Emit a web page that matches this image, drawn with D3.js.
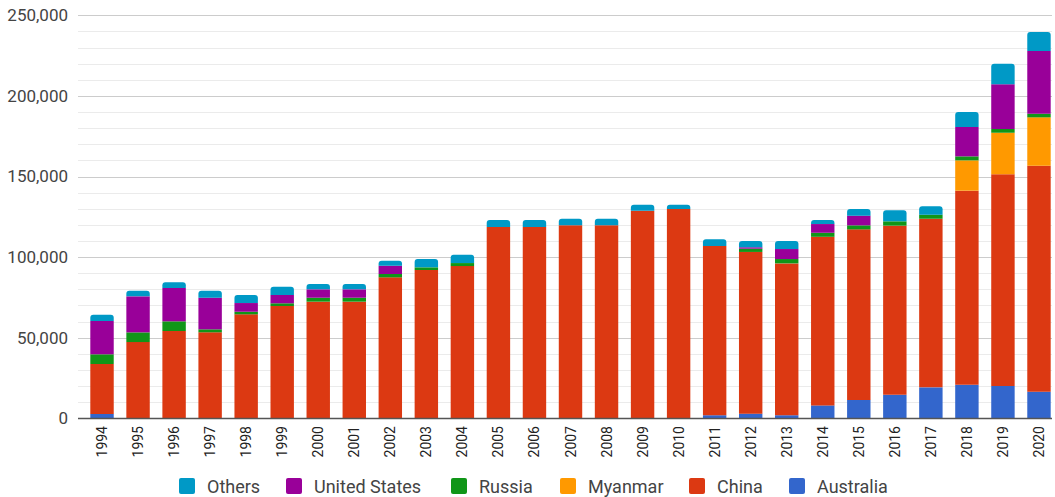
<!DOCTYPE html>
<html>
<head>
<meta charset="utf-8">
<script src="https://cdn.jsdelivr.net/npm/d3@7"></script>
<style>
  html, body { margin: 0; padding: 0; background: #fff; }
  svg { display: block; font-family: Roboto, "Noto Sans", sans-serif; }
</style>
</head>
<body>
<svg id="chart" width="1055" height="497"></svg>
<script>
const years = ["1994","1995","1996","1997","1998","1999","2000","2001","2002","2003","2004","2005","2006","2007","2008","2009","2010","2011","2012","2013","2014","2015","2016","2017","2018","2019","2020"];
const seriesNames = ["Australia","China","Myanmar","Russia","United States","Others"];
const australia = [2700,0,0,0,0,0,0,0,0,0,0,0,0,0,0,0,0,1900,2900,1900,8000,11400,14600,19200,20800,20050,16500];
const china = [31000,47300,54150,53350,64500,69650,72350,72350,87450,92000,94450,118650,118650,119700,119700,128800,129800,105000,100300,94200,104600,105800,104900,104600,120400,131300,140200];
const myanmar = [0,0,0,0,0,0,0,0,0,0,0,0,0,0,0,0,0,0,0,0,0,0,0,0,18800,25800,30000];
const russia = [6000,6000,6000,1850,1600,1700,2450,2450,2050,1650,1850,0,0,0,0,0,0,0,2000,2700,2500,2500,2700,2500,2500,2300,2250];
const unitedStates = [20650,22350,20700,19600,5400,5150,5200,5200,5150,0,0,0,0,0,0,0,0,0,900,6200,5400,6000,0,0,18200,27750,38900];
const others = [3950,3450,3500,4350,5000,5150,3300,3300,3100,5150,5200,4350,4350,4100,4100,3700,2650,4100,3900,5000,2500,4100,6800,5200,9300,12800,11750];
const yTicks = [0,50000,100000,150000,200000,250000];
const legendOrder = ["Others","United States","Russia","Myanmar","China","Australia"];

const colors = {"Australia":"#3366CC","China":"#DC3912","Myanmar":"#FF9900","Russia":"#109618","United States":"#990099","Others":"#0099C6"};
const seriesData = {"Australia":australia,"China":china,"Myanmar":myanmar,"Russia":russia,"United States":unitedStates,"Others":others};

const rows = years.map((y,i) => {
  const r = {year:y};
  seriesNames.forEach(s => r[s] = seriesData[s][i]);
  return r;
});

const svg = d3.select("#chart");
const x = d3.scaleBand().domain(years).range([84, 1057]).paddingInner(0.35).paddingOuter(0.175);
const y = d3.scaleLinear().domain([0, 250000]).range([418.3, 15.3]);
const xL = 78, xR = 1052;

// minor gridlines
const minor = d3.range(10000, 250001, 10000).filter(v => v % 50000 !== 0);
svg.append("g").selectAll("line").data(minor).join("line")
  .attr("x1", xL).attr("x2", xR)
  .attr("y1", d => Math.round(y(d)) + 0.5).attr("y2", d => Math.round(y(d)) + 0.5)
  .attr("stroke", "#ebebeb").attr("stroke-width", 1);
// major gridlines
svg.append("g").selectAll("line").data(yTicks.filter(v => v > 0)).join("line")
  .attr("x1", xL).attr("x2", xR)
  .attr("y1", d => Math.round(y(d)) + 0.5).attr("y2", d => Math.round(y(d)) + 0.5)
  .attr("stroke", "#cccccc").attr("stroke-width", 1);

// y tick labels
svg.append("g").selectAll("text").data(yTicks).join("text")
  .attr("x", 68).attr("y", d => y(d)).attr("dy", "0.35em")
  .attr("text-anchor", "end").attr("font-size", 17).attr("fill", "#444")
  .text(d => d3.format(",")(d));

// stacked bars
const stack = d3.stack().keys(seriesNames)(rows);
const topKey = rows.map(r => { let k = null; seriesNames.forEach(s => { if (r[s] > 0) k = s; }); return k; });
const rad = 3;
function segPath(x0, w, yTop, yBot, rounded) {
  if (!rounded) return `M${x0},${yBot}V${yTop}H${x0+w}V${yBot}Z`;
  const r = Math.min(rad, (yBot - yTop));
  return `M${x0},${yBot}V${yTop+r}Q${x0},${yTop} ${x0+r},${yTop}H${x0+w-r}Q${x0+w},${yTop} ${x0+w},${yTop+r}V${yBot}Z`;
}
const gBars = svg.append("g");
stack.forEach(layer => {
  const key = layer.key;
  gBars.append("g").attr("fill", colors[key]).selectAll("path")
    .data(layer.map((d,i) => ({d, i})).filter(o => o.d[1] - o.d[0] > 0))
    .join("path")
    .attr("d", o => segPath(x(years[o.i]), x.bandwidth(), y(o.d[1]), y(o.d[0]), topKey[o.i] === key));
});

// baseline
svg.append("line").attr("x1", xL).attr("x2", xR)
  .attr("y1", 418.5).attr("y2", 418.5).attr("stroke", "#555").attr("stroke-width", 1.5);

// x labels
svg.append("g").selectAll("text").data(years).join("text")
  .attr("transform", d => `translate(${x(d) + x.bandwidth()/2 + 5},426) rotate(-90)`)
  .attr("text-anchor", "end").attr("font-size", 14).attr("fill", "#222")
  .text(d => d);

// legend
const legendX = [179, 286, 451, 560, 689, 789];
const lg = svg.append("g");
legendOrder.forEach((name, i) => {
  const cx = legendX[i];
  lg.append("rect").attr("x", cx).attr("y", 478).attr("width", 16).attr("height", 16)
    .attr("rx", 2).attr("fill", colors[name]);
  lg.append("text").attr("x", cx + 28).attr("y", 493)
    .attr("font-size", 18).attr("fill", "#444").text(name);
});
</script>
</body>
</html>
